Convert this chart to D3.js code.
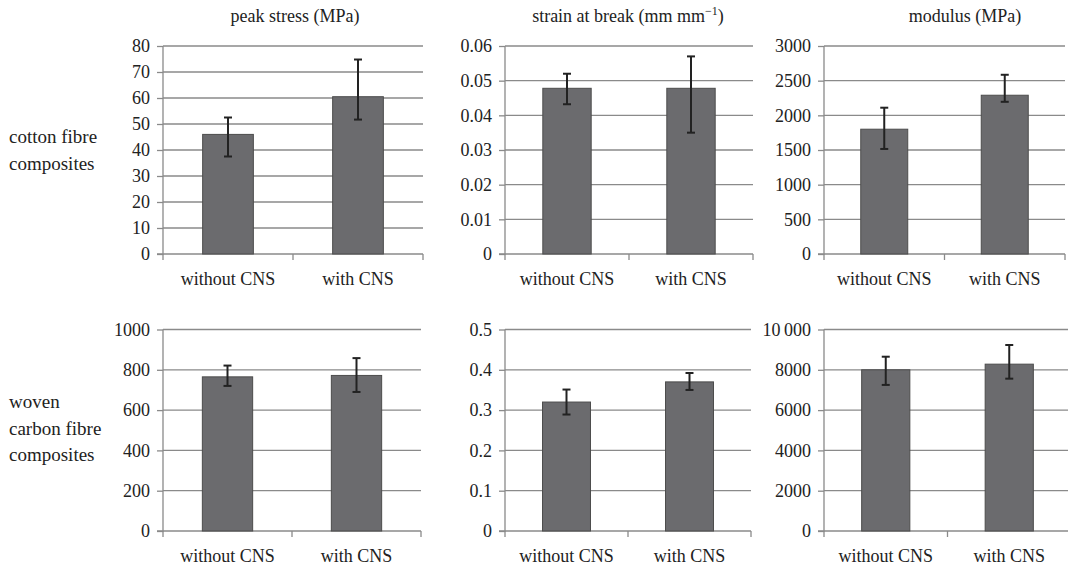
<!DOCTYPE html>
<html>
<head>
<meta charset="utf-8">
<style>
  body { margin: 0; background: #fff; }
  svg text { font-family: "Liberation Serif", "DejaVu Serif", serif !important; fill: #222; }
</style>
</head>
<body>
<svg id="chart" width="1068" height="567"></svg>

<script src="https://cdn.jsdelivr.net/npm/d3@7"></script>
<script>
// categories and panel titles
var categories = ["without CNS", "with CNS"];
var titles = ["peak stress (MPa)", "strain at break (mm mm\u22121)", "modulus (MPa)"];
var rowLabels = [["cotton fibre", "composites"], ["woven", "carbon fibre", "composites"]];

// cotton fibre composites: means, upper and lower error bar ends
var cottonStress = [46, 60.5],     cottonStressHi = [52.5, 74.8],   cottonStressLo = [37.5, 51.7];
var cottonStrain = [0.0478, 0.0478], cottonStrainHi = [0.052, 0.057], cottonStrainLo = [0.0432, 0.035];
var cottonModulus = [1800, 2290],  cottonModulusHi = [2110, 2585],  cottonModulusLo = [1515, 2195];

// woven carbon fibre composites
var carbonStress = [765, 772],     carbonStressHi = [821, 858],     carbonStressLo = [720, 690];
var carbonStrain = [0.32, 0.37],   carbonStrainHi = [0.351, 0.392], carbonStrainLo = [0.289, 0.350];
var carbonModulus = [8000, 8280],  carbonModulusHi = [8650, 9230],  carbonModulusLo = [7250, 7560];

// y tick values and labels
var ticksStressA = [0, 10, 20, 30, 40, 50, 60, 70, 80];
var ticksStrainA = [0, 0.01, 0.02, 0.03, 0.04, 0.05, 0.06];
var labelsStrainA = ["0", "0.01", "0.02", "0.03", "0.04", "0.05", "0.06"];
var ticksModulusA = [0, 500, 1000, 1500, 2000, 2500, 3000];
var ticksStressB = [0, 200, 400, 600, 800, 1000];
var ticksStrainB = [0, 0.1, 0.2, 0.3, 0.4, 0.5];
var labelsStrainB = ["0", "0.1", "0.2", "0.3", "0.4", "0.5"];
var ticksModulusB = [0, 2000, 4000, 6000, 8000, 10000];
var labelsModulusB = ["0", "2000", "4000", "6000", "8000", "10\u2009000"];

var panels = [
  {row: 0, col: 0, v: cottonStress, hi: cottonStressHi, lo: cottonStressLo, ticks: ticksStressA, labels: ticksStressA.map(String)},
  {row: 0, col: 1, v: cottonStrain, hi: cottonStrainHi, lo: cottonStrainLo, ticks: ticksStrainA, labels: labelsStrainA},
  {row: 0, col: 2, v: cottonModulus, hi: cottonModulusHi, lo: cottonModulusLo, ticks: ticksModulusA, labels: ticksModulusA.map(String)},
  {row: 1, col: 0, v: carbonStress, hi: carbonStressHi, lo: carbonStressLo, ticks: ticksStressB, labels: ticksStressB.map(String)},
  {row: 1, col: 1, v: carbonStrain, hi: carbonStrainHi, lo: carbonStrainLo, ticks: ticksStrainB, labels: labelsStrainB},
  {row: 1, col: 2, v: carbonModulus, hi: carbonModulusHi, lo: carbonModulusLo, ticks: ticksModulusB, labels: labelsModulusB}
];

// layout
var colX = [163, 505, 824];
var colW = [[260, 248, 241], [258, 246, 247]];
var rowY = [[46, 254], [329.5, 531]];
var titleX = [295, 628, 965];
var serif = "Liberation Serif, DejaVu Serif, serif";

var svg = d3.select("#chart");
var gridColor = "#8a8a8a";

panels.forEach(function(p) {
  var x0 = colX[p.col], w = colW[p.row][p.col];
  var yTop = rowY[p.row][0], yBot = rowY[p.row][1];

  var x = d3.scaleBand().domain(categories).range([x0, x0 + w]).paddingInner(0.61).paddingOuter(0.305);
  var y = d3.scaleLinear().domain([0, p.ticks[p.ticks.length - 1]]).range([yBot, yTop]);

  var g = svg.append("g");

  // gridlines
  g.selectAll(".grid").data(p.ticks.slice(1)).enter().append("line")
    .attr("x1", x0).attr("x2", x0 + w)
    .attr("y1", function(d) { return y(d); }).attr("y2", function(d) { return y(d); })
    .attr("stroke", gridColor).attr("stroke-width", 1.3);

  // y axis
  var yAxis = g.append("g")
    .attr("transform", "translate(" + x0 + ",0)")
    .call(d3.axisLeft(y).tickValues(p.ticks).tickSize(6).tickPadding(7)
      .tickFormat(function(d, i) { return p.labels[i]; }));
  yAxis.attr("font-family", serif).attr("font-size", 18);
  yAxis.selectAll("path, line").attr("stroke", gridColor).attr("stroke-width", 1.3);
  yAxis.select(".domain").attr("d", "M-6," + yBot + "H0V" + yTop);
  yAxis.selectAll("text").attr("fill", "#222").style("font-family", serif);

  // x axis (category boundaries as ticks)
  var edges = [x0, x0 + w / 2, x0 + w];
  g.append("line").attr("x1", x0).attr("x2", x0 + w).attr("y1", yBot).attr("y2", yBot)
    .attr("stroke", gridColor).attr("stroke-width", 1.3);
  g.selectAll(".xt").data(edges).enter().append("line")
    .attr("x1", function(d) { return d; }).attr("x2", function(d) { return d; })
    .attr("y1", yBot).attr("y2", yBot + 6)
    .attr("stroke", gridColor).attr("stroke-width", 1.3);
  g.selectAll(".xl").data(categories).enter().append("text")
    .attr("x", function(d) { return x(d) + x.bandwidth() / 2; })
    .attr("y", yBot + 31)
    .attr("text-anchor", "middle").attr("font-size", 18).style("font-family", serif)
    .text(function(d) { return d; });

  // bars
  g.selectAll(".bar").data(categories).enter().append("rect")
    .attr("x", function(d) { return x(d); })
    .attr("width", x.bandwidth())
    .attr("y", function(d, i) { return y(p.v[i]); })
    .attr("height", function(d, i) { return yBot - y(p.v[i]); })
    .attr("fill", "#6b6b6e").attr("stroke", "#4c4c4c").attr("stroke-width", 1);

  // error bars
  var eb = g.selectAll(".err").data(categories).enter().append("g");
  eb.append("line")
    .attr("x1", function(d) { return x(d) + x.bandwidth() / 2; })
    .attr("x2", function(d) { return x(d) + x.bandwidth() / 2; })
    .attr("y1", function(d, i) { return y(p.hi[i]); })
    .attr("y2", function(d, i) { return y(p.lo[i]); })
    .attr("stroke", "#222").attr("stroke-width", 2);
  [p.hi, p.lo].forEach(function(arr) {
    eb.append("line")
      .attr("x1", function(d) { return x(d) + x.bandwidth() / 2 - 4; })
      .attr("x2", function(d) { return x(d) + x.bandwidth() / 2 + 4; })
      .attr("y1", function(d, i) { return y(arr[i]); })
      .attr("y2", function(d, i) { return y(arr[i]); })
      .attr("stroke", "#222").attr("stroke-width", 2);
  });
});

// column titles
titles.forEach(function(t, i) {
  var txt = svg.append("text").attr("x", titleX[i]).attr("y", 22)
    .attr("text-anchor", "middle").attr("font-size", 18).style("font-family", serif);
  if (i === 1) {
    txt.append("tspan").text("strain at break (mm mm");
    txt.append("tspan").attr("font-size", 12).attr("dy", -7).text("\u22121");
    txt.append("tspan").attr("dy", 7).text(")");
  } else {
    txt.text(t);
  }
});

// row labels
var rowBase = [143, 408];
rowLabels.forEach(function(lines, r) {
  lines.forEach(function(l, k) {
    svg.append("text").attr("x", 9).attr("y", rowBase[r] + k * 26.5)
      .attr("font-size", 19).style("font-family", serif).text(l);
  });
});
</script>
</body>
</html>
